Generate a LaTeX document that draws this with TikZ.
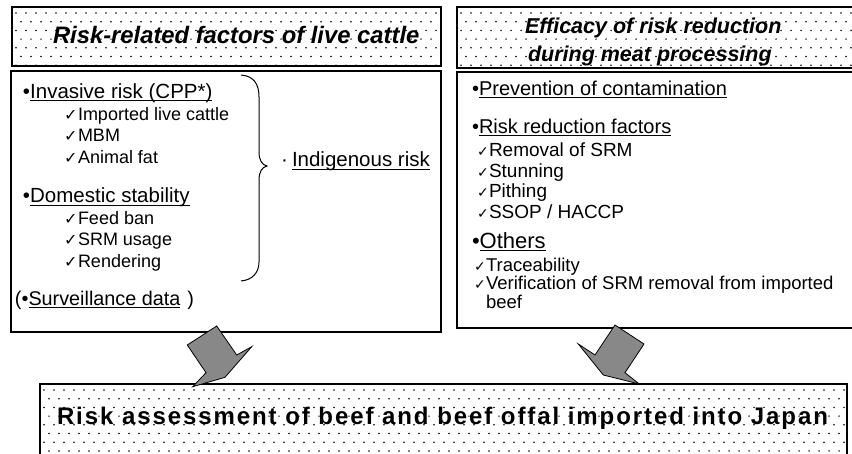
\documentclass[tikz,border=0pt]{standalone}
\usepackage{fontspec}
\setmainfont{Liberation Sans}
\newfontfamily\symf{DejaVu Sans}
\newfontfamily\spacedf[LetterSpace=8]{Liberation Sans}
\newcommand\fs[1]{\fontsize{#1}{#1}\selectfont}
\newcommand\ul[1]{\setbox0\hbox{#1}\rlap{\rule[-2.8pt]{\wd0}{0.9pt}}\box0}
\newcommand\mydotgrid[4]{%
  \begin{scope}
    \clip (#1,#2) rectangle (#3,#4);
    \foreach \j in {0,...,9}{
      \foreach \i in {0,...,82}{
        \pgfmathsetmacro\xx{#1+4+10*\i+5*mod(\j,2)}
        \pgfmathsetmacro\yy{#2+6+8.7*\j}
        \fill (\xx,\yy) circle (0.85pt);
      }
    }
  \end{scope}}
\definecolor{arrowgray}{RGB}{136,136,136}
\begin{document}
\begin{tikzpicture}[x=1pt,y=-1pt,
  box/.style={draw=black,line width=1.1pt,inner sep=0pt,outer sep=0pt,anchor=north west},
  txt/.style={anchor=base west,inner sep=0pt,outer sep=0pt},
  ckL/.style={txt,font=\symf\fontsize{16}{16}\selectfont},
  ckR/.style={txt,font=\symf\fontsize{14}{14}\selectfont},
  blockarrow/.style={fill=arrowgray,draw=black,line width=0.8pt,line join=miter}]
\useasboundingbox (0,0) rectangle (852,453);
\fill[white] (0,0) rectangle (852,453);

% header boxes
\node[box,minimum width=429pt,minimum height=59pt] (hdrL) at (12,7) {};
\node[box,minimum width=410pt,minimum height=61pt] (hdrR) at (457,7) {};
% content boxes
\node[box,minimum width=430pt,minimum height=261pt] (boxL) at (11,71) {};
\node[box,minimum width=410pt,minimum height=256pt] (boxR) at (457,72) {};
% bottom box
\node[box,minimum width=807pt,minimum height=80pt] (boxB) at (40,384) {};

% header texts
\node[txt] (tL) at (53,43) {\fs{23.8}\bfseries\itshape Risk-related factors of live cattle};
\node[txt] (tR1) at (525,33.3) {\fs{21.5}\bfseries\itshape Efficacy of risk reduction};
\node[txt] (tR2) at (528,61) {\fs{21.5}\bfseries\itshape during meat processing};
\node[txt] (tB) at (57,424) {\fs{24}\spacedf\bfseries Risk assessment of beef and beef offal imported into Japan};

% dot patterns
\mydotgrid{12}{7}{441}{66}
\mydotgrid{457}{7}{867}{68}
\mydotgrid{40}{384}{847}{464}

% left content
\node[txt] (l1) at (23,98.3) {\fs{20.5}•\ul{Invasive risk (CPP*)}};
\node[ckL] (cl2) at (64,120) {✓};
\node[txt] (l2) at (78,120) {\fs{18}Imported live cattle};
\node[ckL] (cl3) at (64,141.7) {✓};
\node[txt] (l3) at (78,141.7) {\fs{18}MBM};
\node[ckL] (cl4) at (64,163.3) {✓};
\node[txt] (l4) at (78,163.3) {\fs{18}Animal fat};
\node[txt] (l5) at (23,202.7) {\fs{20.5}•\ul{Domestic stability}};
\node[ckL] (cl6) at (64,224) {✓};
\node[txt] (l6) at (78,224) {\fs{18}Feed ban};
\node[ckL] (cl7) at (64,245.7) {✓};
\node[txt] (l7) at (78,245.7) {\fs{18}SRM usage};
\node[ckL] (cl8) at (64,267) {✓};
\node[txt] (l8) at (78,267) {\fs{18}Rendering};
\node[txt] (l9) at (15,305) {\fs{19.8}(•\ul{Surveillance data}\hspace{7pt})};
\node[txt] (ind) at (281,166.7) {\fs{20.5}\makebox[11pt][l]{·}\ul{Indigenous risk}};

% brace
\draw[line width=1pt] (241,75) .. controls (253,76) and (259,83) .. (259,97)
  -- (259,152) .. controls (259,160) and (262,165) .. (267,166)
  .. controls (262,167) and (259,172) .. (259,180)
  -- (259,262) .. controls (259,273) and (252,280) .. (241,281);

% right content
\node[txt] (r1) at (472,95) {\fs{20}•\ul{Prevention of contamination}};
\node[txt] (r2) at (472,133.3) {\fs{20}•\ul{Risk reduction factors}};
\node[ckR] (cr3) at (477,156.7) {✓};
\node[txt] (r3) at (489,156.7) {\fs{19}Removal of SRM};
\node[ckR] (cr4) at (477,177.3) {✓};
\node[txt] (r4) at (489,177.3) {\fs{19}Stunning};
\node[ckR] (cr5) at (477,197.7) {✓};
\node[txt] (r5) at (489,197.7) {\fs{19}Pithing};
\node[ckR] (cr6) at (477,218.3) {✓};
\node[txt] (r6) at (489,218.3) {\fs{19}SSOP / HACCP};
\node[txt] (r7) at (472,248.3) {\fs{22}•\ul{Others}};
\node[ckR] (cr8) at (474,271) {✓};
\node[txt] (r8) at (486,271) {\fs{18.5}Traceability};
\node[ckR] (cr9) at (474,289.5) {✓};
\node[txt] (r9) at (486,289.5) {\fs{18.5}Verification of SRM removal from imported};
\node[txt] (r10) at (486,308) {\fs{18.5}beef};

% block arrows
\draw[blockarrow] (216.7,326) -- (187.3,345) -- (206,372.7) -- (192.7,386.7)
  -- (225,377.3) -- (251.7,346.7) -- (236.7,355) -- cycle;
\draw[blockarrow] (615,325) -- (644,344) -- (625,372.7) -- (639.3,384)
  -- (603.3,375) -- (578.3,344) -- (595,355) -- cycle;
\end{tikzpicture}
\end{document}
